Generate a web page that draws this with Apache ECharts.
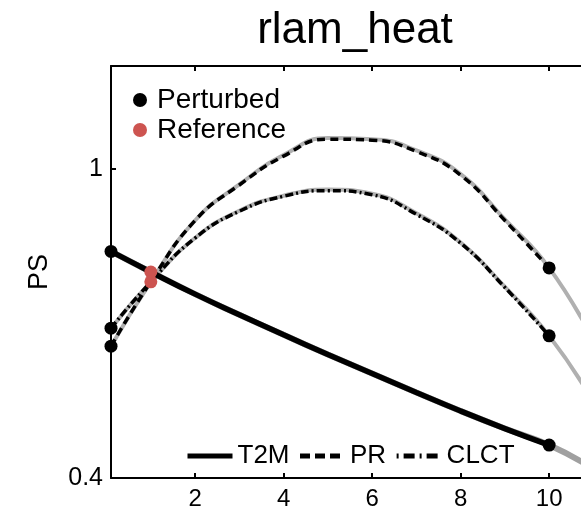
<!DOCTYPE html>
<html>
<head>
<meta charset="utf-8">
<script src="https://cdn.jsdelivr.net/npm/echarts@6/dist/echarts.min.js"></script>
<style>
  html, body { margin: 0; padding: 0; background: #fff; }
  #chart { width: 581px; height: 511px; }
</style>
</head>
<body>
<div id="chart"></div>
<script>
  // perturbation values of rlam_heat
  var xValues = [0.1, 1, 2, 3, 4, 5, 6, 7, 8, 9, 10];
  var t2m  = [0.840, 0.800, 0.757, 0.717, 0.678, 0.640, 0.603, 0.566, 0.530, 0.496, 0.464];
  var pr   = [0.656, 0.781, 0.900, 0.969, 1.025, 1.058, 1.056, 1.034, 0.988, 0.900, 0.808];
  var clct = [0.691, 0.781, 0.866, 0.918, 0.947, 0.958, 0.950, 0.912, 0.856, 0.770, 0.676];

  // grey fitted curves, continued past the last run
  var fitX    = [0.1, 1, 2, 3, 4, 5, 6, 7, 8, 9, 10, 11];
  var t2mFit  = [0.840, 0.800, 0.757, 0.717, 0.678, 0.640, 0.603, 0.566, 0.530, 0.496, 0.464, 0.418];
  var prFit   = [0.656, 0.781, 0.900, 0.970, 1.027, 1.060, 1.058, 1.036, 0.990, 0.902, 0.808, 0.668];
  var clctFit = [0.691, 0.781, 0.866, 0.919, 0.948, 0.960, 0.952, 0.914, 0.857, 0.771, 0.676, 0.548];

  var perturbedX = [0.1, 0.1, 0.1, 10, 10, 10];
  var perturbedY = [0.840, 0.656, 0.691, 0.464, 0.808, 0.676];
  var referenceX = [1, 1];
  var referenceY = [0.800, 0.781];

  var xTicks = [2, 4, 6, 8, 10];
  var yTicks = [0.4, 1];

  var font = 'Liberation Sans';

  function pairs(xs, ys) {
    return xs.map(function (x, i) { return [x, ys[i]]; });
  }

  var chart = echarts.init(document.getElementById('chart'));

  chart.setOption({
    backgroundColor: '#ffffff',
    animation: false,
    title: {
      text: 'rlam_heat',
      left: 350,
      top: 4,
      textAlign: 'center',
      textStyle: { fontFamily: font, fontSize: 44, fontWeight: 'normal', color: '#000' }
    },
    legend: [
      {
        data: ['Perturbed', 'Reference'],
        orient: 'vertical',
        left: 133,
        top: 86,
        padding: 0,
        itemGap: 2,
        itemWidth: 14,
        itemHeight: 14,
        icon: 'circle',
        textStyle: { fontFamily: font, fontSize: 28, color: '#000', padding: [0, 0, 0, 5] }
      },
      {
        data: [
          { name: 'T2M' },
          { name: 'PR', lineStyle: { type: [10, 5] } },
          { name: 'CLCT', lineStyle: { type: [2, 5, 11, 5] } }
        ],
        left: 185,
        top: 443,
        padding: 0,
        itemGap: 8,
        itemWidth: 45,
        itemHeight: 14,
        itemStyle: { opacity: 0 },
        lineStyle: { width: 5 },
        textStyle: { fontFamily: font, fontSize: 26, color: '#000' }
      }
    ],
    grid: { left: 111, right: 0, top: 66, bottom: 33 },
    xAxis: [
      {
        type: 'value',
        min: 0.1,
        max: 10.72,
        axisLine: { lineStyle: { color: '#000', width: 2 } },
        axisTick: { inside: true, length: 5, customValues: xTicks, lineStyle: { color: '#000', width: 2 } },
        axisLabel: { customValues: xTicks, fontFamily: font, fontSize: 24, color: '#000', margin: 9 },
        splitLine: { show: false }
      },
      {
        type: 'value',
        position: 'top',
        min: 0.1,
        max: 10.72,
        axisLine: { lineStyle: { color: '#000', width: 2 } },
        axisTick: { inside: true, length: 5, customValues: xTicks, lineStyle: { color: '#000', width: 2 } },
        axisLabel: { show: false },
        splitLine: { show: false }
      }
    ],
    yAxis: {
      type: 'value',
      min: 0.4,
      max: 1.2,
      name: 'PS',
      nameLocation: 'middle',
      nameGap: 58,
      nameTextStyle: { fontFamily: font, fontSize: 27, color: '#000' },
      axisLine: { lineStyle: { color: '#000', width: 2 } },
      axisTick: { inside: true, length: 5, customValues: yTicks, lineStyle: { color: '#000', width: 2 } },
      axisLabel: { customValues: yTicks, fontFamily: font, fontSize: 25, color: '#000', margin: 8 },
      splitLine: { show: false }
    },
    series: [
      {
        name: 'T2M fit', type: 'line', data: pairs(fitX, t2mFit), smooth: true,
        symbol: 'none', lineStyle: { color: '#a0a0a0', width: 6 }, z: 1
      },
      {
        name: 'PR fit', type: 'line', data: pairs(fitX, prFit), smooth: true,
        symbol: 'none', lineStyle: { color: '#b0b0b0', width: 4 }, z: 1
      },
      {
        name: 'CLCT fit', type: 'line', data: pairs(fitX, clctFit), smooth: true,
        symbol: 'none', lineStyle: { color: '#b0b0b0', width: 4 }, z: 1
      },
      {
        name: 'T2M', type: 'line', data: pairs(xValues, t2m), smooth: true,
        symbol: 'none', color: '#000', lineStyle: { color: '#000', width: 5.5 }, z: 2
      },
      {
        name: 'PR', type: 'line', data: pairs(xValues, pr), smooth: true,
        symbol: 'none', color: '#000', lineStyle: { color: '#000', width: 3.5, type: [8, 5] }, z: 2
      },
      {
        name: 'CLCT', type: 'line', data: pairs(xValues, clct), smooth: true,
        symbol: 'none', color: '#000', lineStyle: { color: '#000', width: 3.5, type: [8, 3, 2, 3] }, z: 2
      },
      {
        name: 'Perturbed', type: 'scatter', data: pairs(perturbedX, perturbedY),
        symbolSize: 13, itemStyle: { color: '#000', opacity: 1 }, z: 3
      },
      {
        name: 'Reference', type: 'scatter', data: pairs(referenceX, referenceY),
        symbolSize: 13, itemStyle: { color: '#cd5450', opacity: 1 }, z: 3
      }
    ]
  });
</script>
</body>
</html>
